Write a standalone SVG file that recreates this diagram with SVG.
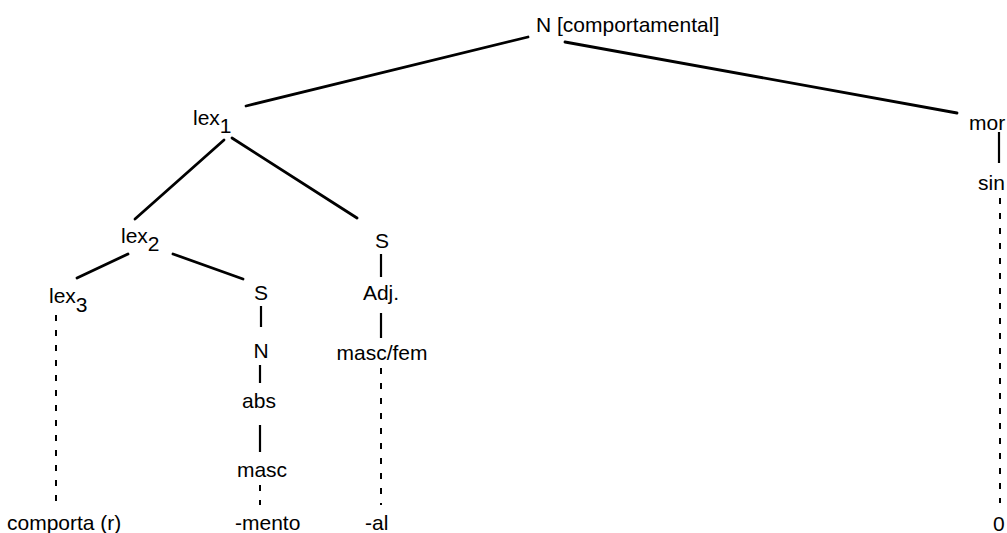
<svg xmlns="http://www.w3.org/2000/svg" width="1007" height="533" viewBox="0 0 1007 533">
<style>
text{font-family:"Liberation Sans",Arial,Helvetica,sans-serif;font-size:21px;fill:#000}
.s{stroke:#000;stroke-width:2.8;fill:none;stroke-linecap:round}
.v{stroke:#000;stroke-width:2.2;fill:none}
.d{stroke:#000;stroke-width:2;fill:none;stroke-dasharray:6 9}
</style>
<rect width="1007" height="533" fill="#fff"/>
<g id="connectors">
<line class="s" x1="528" y1="37" x2="246" y2="106"/>
<line class="s" x1="565" y1="42" x2="957" y2="113"/>
<line class="s" x1="224" y1="140" x2="135" y2="219"/>
<line class="s" x1="232" y1="138" x2="357" y2="218"/>
<line class="s" x1="128" y1="254" x2="77" y2="278"/>
<line class="s" x1="173" y1="254" x2="243" y2="279"/>
<line class="v" x1="381" y1="254" x2="381" y2="277"/>
<line class="v" x1="381" y1="313" x2="381" y2="338"/>
<line class="d" x1="381" y1="368" x2="381" y2="505"/>
<line class="v" x1="261" y1="306" x2="261" y2="327"/>
<line class="v" x1="260" y1="365" x2="260" y2="383"/>
<line class="v" x1="260" y1="425" x2="260" y2="452"/>
<line class="d" x1="260" y1="485" x2="260" y2="505"/>
<line class="d" x1="56" y1="315" x2="56" y2="502"/>
<line class="v" x1="999" y1="132" x2="999" y2="163"/>
<line class="d" x1="1000" y1="198" x2="1000" y2="503"/>
</g>
<g id="root"><text x="536" y="32">N [comportamental]</text></g>
<g id="lex1"><text x="193" y="125">lex<tspan dy="8">1</tspan></text></g>
<g id="lex2"><text x="121" y="243">lex<tspan dy="8">2</tspan></text></g>
<g id="lex3"><text x="49" y="303">lex<tspan dy="9">3</tspan></text></g>
<g id="S1"><text x="382" y="248" text-anchor="middle">S</text></g>
<g id="Adj"><text x="381" y="300" text-anchor="middle">Adj.</text></g>
<g id="mascfem"><text x="382" y="360" text-anchor="middle">masc/fem</text></g>
<g id="al"><text x="365" y="530">-al</text></g>
<g id="S2"><text x="261" y="300" text-anchor="middle">S</text></g>
<g id="N"><text x="261" y="358" text-anchor="middle">N</text></g>
<g id="abs"><text x="259" y="408" text-anchor="middle">abs</text></g>
<g id="masc"><text x="262" y="477" text-anchor="middle">masc</text></g>
<g id="mento"><text x="235" y="530">-mento</text></g>
<g id="comporta"><text x="7" y="530">comporta (r)</text></g>
<g id="mor"><text x="969" y="130">mor</text></g>
<g id="sin"><text x="978" y="190">sin</text></g>
<g id="zero"><text x="993" y="531">0</text></g>
</svg>
